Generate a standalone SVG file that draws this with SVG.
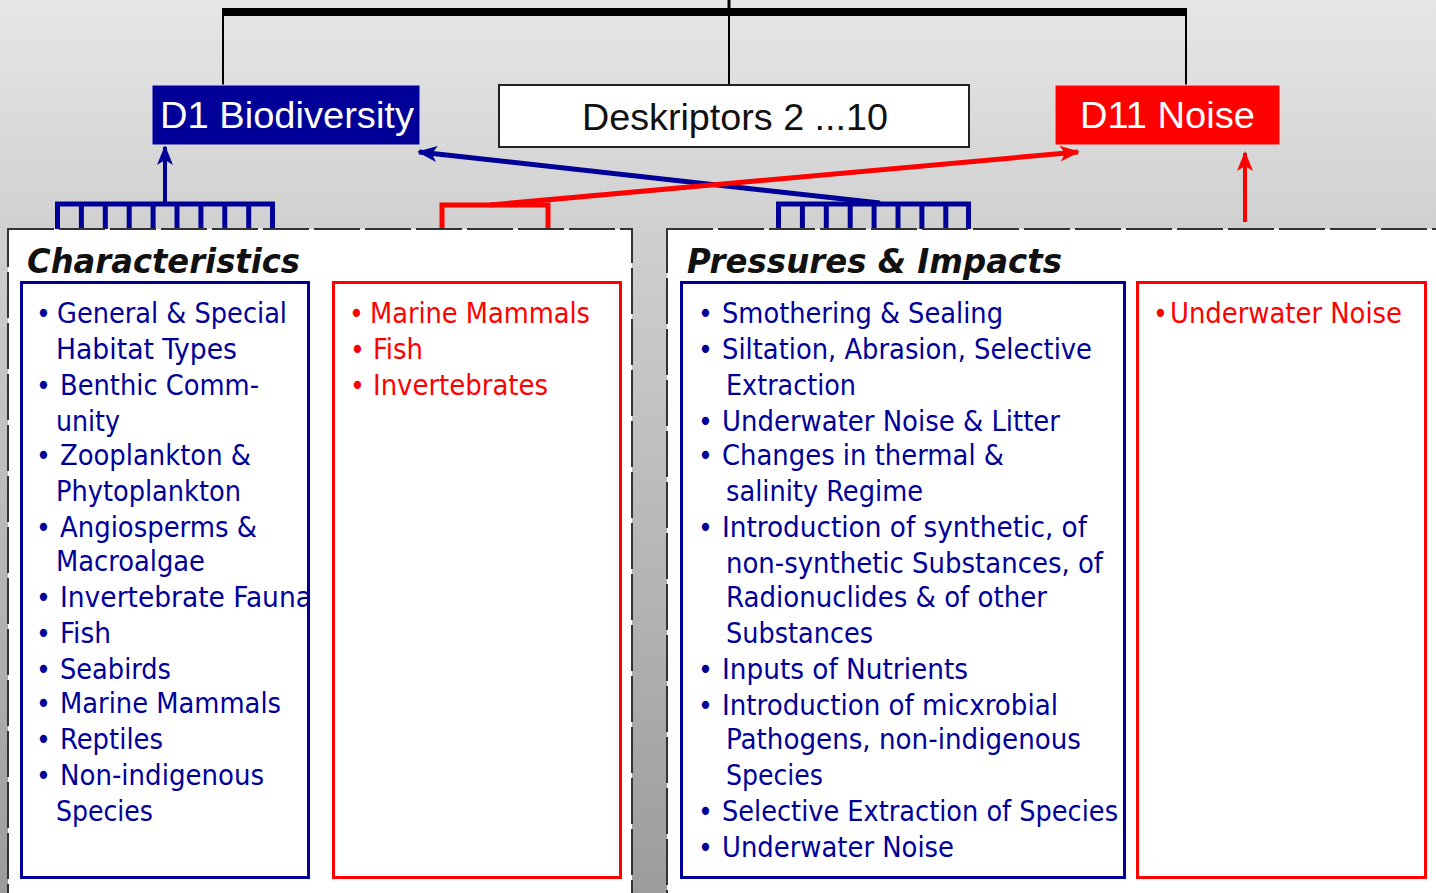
<svg xmlns="http://www.w3.org/2000/svg" width="1436" height="893" viewBox="0 0 1436 893">
<defs>
<linearGradient id="bg" x1="0" y1="0" x2="0" y2="1">
<stop offset="0" stop-color="#e6e6e6"/>
<stop offset="0.27" stop-color="#cfcfcf"/>
<stop offset="1" stop-color="#9c9c9c"/>
</linearGradient>
<marker id="ahB" markerUnits="userSpaceOnUse" markerWidth="20" markerHeight="16" refX="18" refY="8" orient="auto"><path d="M0,0 L20,8 L0,16 L5,8 Z" fill="#000099"/></marker>
<marker id="ahR" markerUnits="userSpaceOnUse" markerWidth="20" markerHeight="16" refX="18" refY="8" orient="auto"><path d="M0,0 L20,8 L0,16 L5,8 Z" fill="#ff0000"/></marker>
<style>
.panel{fill:#ffffff;stroke:#333333;stroke-width:2;stroke-dasharray:46 5}
.bbox{fill:none;stroke:#000099;stroke-width:3}
.rbox{fill:none;stroke:#ff0000;stroke-width:3}
.it{font-family:"DejaVu Sans Condensed","DejaVu Sans",sans-serif;font-size:28px}
.b{fill:#000099}
.r{fill:#ff0000}
.ttl{font-family:"DejaVu Sans Condensed","DejaVu Sans",sans-serif;font-size:34px;font-weight:bold;font-style:italic;fill:#111111}
.hd{font-family:"Liberation Sans",Arial,sans-serif;font-size:36px}
.blk{fill:none;stroke:#000000;stroke-width:2}
</style>
</defs>
<rect x="0" y="0" width="1436" height="893" fill="url(#bg)"/>

<g id="connectors">
<line x1="222" y1="12" x2="1187" y2="12" stroke="#000" stroke-width="8"/>
<line x1="729" y1="0" x2="729" y2="12" stroke="#000" stroke-width="3"/>
<line x1="223" y1="12" x2="223" y2="86" class="blk"/>
<line x1="729" y1="12" x2="729" y2="86" class="blk"/>
<line x1="1186" y1="12" x2="1186" y2="86" class="blk"/>
<path d="M55,204 H275 M57.5,204 V229 M81.4,204 V229 M105.3,204 V229 M129.2,204 V229 M153.1,204 V229 M177,204 V229 M200.9,204 V229 M224.8,204 V229 M248.7,204 V229 M272.5,204 V229" fill="none" stroke="#000099" stroke-width="5"/>
<path d="M776,204 H971 M778.5,204 V229 M802.4,204 V229 M826.3,204 V229 M850.2,204 V229 M874.1,204 V229 M898,204 V229 M921.9,204 V229 M945.8,204 V229 M968.5,204 V229" fill="none" stroke="#000099" stroke-width="5"/>
<path d="M442,229 V205 H548 V229" fill="none" stroke="#ff0000" stroke-width="5"/>
<line x1="165" y1="202" x2="165" y2="147" stroke="#000099" stroke-width="4" marker-end="url(#ahB)"/>
<line x1="880" y1="203" x2="419" y2="152" stroke="#000099" stroke-width="5" marker-end="url(#ahB)"/>
<line x1="490" y1="205" x2="1078" y2="152" stroke="#ff0000" stroke-width="5" marker-end="url(#ahR)"/>
<line x1="1245" y1="222" x2="1245" y2="153" stroke="#ff0000" stroke-width="4" marker-end="url(#ahR)"/>
</g>

<g id="d1">
<rect x="152" y="85" width="268" height="60" fill="#000099" stroke="#dcdcf0" stroke-width="1"/>
<text x="160" y="128" class="hd" fill="#ffffff" textLength="254" lengthAdjust="spacingAndGlyphs">D1 Biodiversity</text>
</g>
<g id="d2-10">
<rect x="499" y="85" width="470" height="62" fill="#ffffff" stroke="#222" stroke-width="2"/>
<text x="582" y="130" class="hd" fill="#111" textLength="306" lengthAdjust="spacingAndGlyphs">Deskriptors 2 ...10</text>
</g>
<g id="d11">
<rect x="1055" y="85" width="225" height="60" fill="#ff0000" stroke="#ffdcdc" stroke-width="1"/>
<text x="1080" y="128" class="hd" fill="#ffffff" textLength="175" lengthAdjust="spacingAndGlyphs">D11 Noise</text>
</g>

<g id="characteristics">
<rect x="8" y="229" width="624" height="670" class="panel"/>
<text x="27" y="273" class="ttl" textLength="273" lengthAdjust="spacingAndGlyphs">Characteristics</text>
<g class="it b">
<text x="36" y="323">•</text><text x="57" y="323" textLength="230" lengthAdjust="spacingAndGlyphs">General &amp; Special</text>
<text x="56" y="359" textLength="181" lengthAdjust="spacingAndGlyphs">Habitat Types</text>
<text x="36" y="395">•</text><text x="60" y="395" textLength="199" lengthAdjust="spacingAndGlyphs">Benthic Comm-</text>
<text x="56" y="431" textLength="64" lengthAdjust="spacingAndGlyphs">unity</text>
<text x="36" y="465">•</text><text x="60" y="465" textLength="191" lengthAdjust="spacingAndGlyphs">Zooplankton &amp;</text>
<text x="56" y="501" textLength="185" lengthAdjust="spacingAndGlyphs">Phytoplankton</text>
<text x="36" y="537">•</text><text x="60" y="537" textLength="197" lengthAdjust="spacingAndGlyphs">Angiosperms &amp;</text>
<text x="56" y="571" textLength="149" lengthAdjust="spacingAndGlyphs">Macroalgae</text>
<text x="36" y="607">•</text><text x="60" y="607" textLength="252" lengthAdjust="spacingAndGlyphs">Invertebrate Fauna</text>
<text x="36" y="643">•</text><text x="60" y="643" textLength="51" lengthAdjust="spacingAndGlyphs">Fish</text>
<text x="36" y="679">•</text><text x="60" y="679" textLength="111" lengthAdjust="spacingAndGlyphs">Seabirds</text>
<text x="36" y="713">•</text><text x="60" y="713" textLength="221" lengthAdjust="spacingAndGlyphs">Marine Mammals</text>
<text x="36" y="749">•</text><text x="60" y="749" textLength="103" lengthAdjust="spacingAndGlyphs">Reptiles</text>
<text x="36" y="785">•</text><text x="60" y="785" textLength="204" lengthAdjust="spacingAndGlyphs">Non-indigenous</text>
<text x="56" y="821" textLength="97" lengthAdjust="spacingAndGlyphs">Species</text>
</g>
<rect x="21.5" y="282.5" width="287" height="595" class="bbox"/>
<g class="it r">
<text x="349" y="323">•</text><text x="370" y="323" textLength="220" lengthAdjust="spacingAndGlyphs">Marine Mammals</text>
<text x="350" y="359">•</text><text x="373" y="359" textLength="50" lengthAdjust="spacingAndGlyphs">Fish</text>
<text x="350" y="395">•</text><text x="373" y="395" textLength="175" lengthAdjust="spacingAndGlyphs">Invertebrates</text>
</g>
<rect x="333.5" y="282.5" width="287" height="595" class="rbox"/>
</g>

<g id="pressures">
<rect x="667" y="229" width="780" height="670" class="panel"/>
<text x="687" y="273" class="ttl" textLength="375" lengthAdjust="spacingAndGlyphs">Pressures &amp; Impacts</text>
<g class="it b">
<text x="698" y="323">•</text><text x="722" y="323" textLength="281" lengthAdjust="spacingAndGlyphs">Smothering &amp; Sealing</text>
<text x="698" y="359">•</text><text x="722" y="359" textLength="370" lengthAdjust="spacingAndGlyphs">Siltation, Abrasion, Selective</text>
<text x="726" y="395" textLength="130" lengthAdjust="spacingAndGlyphs">Extraction</text>
<text x="698" y="431">•</text><text x="722" y="431" textLength="338" lengthAdjust="spacingAndGlyphs">Underwater Noise &amp; Litter</text>
<text x="698" y="465">•</text><text x="722" y="465" textLength="282" lengthAdjust="spacingAndGlyphs">Changes in thermal &amp;</text>
<text x="726" y="501" textLength="197" lengthAdjust="spacingAndGlyphs">salinity Regime</text>
<text x="698" y="537">•</text><text x="722" y="537" textLength="365" lengthAdjust="spacingAndGlyphs">Introduction of synthetic, of</text>
<text x="726" y="573" textLength="377" lengthAdjust="spacingAndGlyphs">non-synthetic Substances, of</text>
<text x="726" y="607" textLength="321" lengthAdjust="spacingAndGlyphs">Radionuclides &amp; of other</text>
<text x="726" y="643" textLength="147" lengthAdjust="spacingAndGlyphs">Substances</text>
<text x="698" y="679">•</text><text x="722" y="679" textLength="246" lengthAdjust="spacingAndGlyphs">Inputs of Nutrients</text>
<text x="698" y="715">•</text><text x="722" y="715" textLength="336" lengthAdjust="spacingAndGlyphs">Introduction of micxrobial</text>
<text x="726" y="749" textLength="355" lengthAdjust="spacingAndGlyphs">Pathogens, non-indigenous</text>
<text x="726" y="785" textLength="97" lengthAdjust="spacingAndGlyphs">Species</text>
<text x="698" y="821">•</text><text x="722" y="821" textLength="396" lengthAdjust="spacingAndGlyphs">Selective Extraction of Species</text>
<text x="698" y="857">•</text><text x="722" y="857" textLength="232" lengthAdjust="spacingAndGlyphs">Underwater Noise</text>
</g>
<rect x="681.5" y="282.5" width="443" height="595" class="bbox"/>
<g class="it r">
<text x="1153" y="323">•</text><text x="1170" y="323" textLength="232" lengthAdjust="spacingAndGlyphs">Underwater Noise</text>
</g>
<rect x="1137.5" y="282.5" width="288" height="595" class="rbox"/>
</g>
</svg>
